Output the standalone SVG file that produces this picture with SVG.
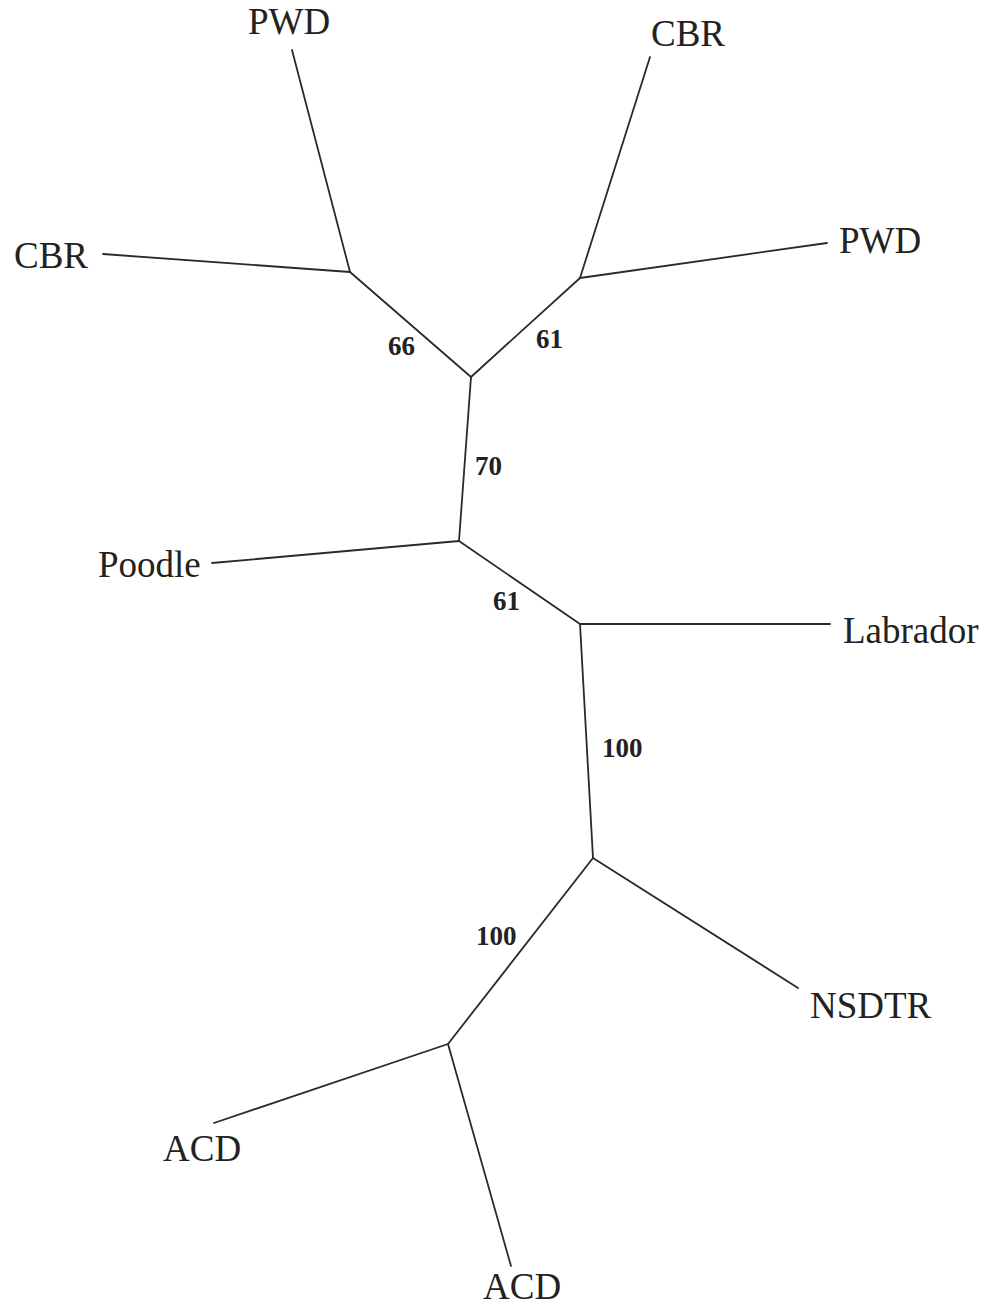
<svg xmlns="http://www.w3.org/2000/svg" width="988" height="1308" viewBox="0 0 988 1308">
<style>
.e{stroke:#2a2a2a;stroke-width:1.8;fill:none;stroke-linecap:round;stroke-linejoin:round}
.t{font-family:"Liberation Serif","Times New Roman",serif;font-size:37px;fill:#222}
.b{font-family:"Liberation Serif","Times New Roman",serif;font-size:27px;font-weight:bold;fill:#222}
</style>
<rect width="988" height="1308" fill="#fff"/>
<g id="connectors">
<line class="e" x1="350" y1="272" x2="292" y2="50"/>
<line class="e" x1="350" y1="272" x2="103" y2="254"/>
<line class="e" x1="350" y1="272" x2="471" y2="377"/>
<line class="e" x1="580" y1="278" x2="650" y2="57"/>
<line class="e" x1="580" y1="278" x2="827" y2="243"/>
<line class="e" x1="580" y1="278" x2="471" y2="377"/>
<line class="e" x1="471" y1="377" x2="459" y2="541"/>
<line class="e" x1="459" y1="541" x2="212" y2="563"/>
<line class="e" x1="459" y1="541" x2="580" y2="624"/>
<line class="e" x1="580" y1="624" x2="830" y2="624"/>
<line class="e" x1="580" y1="624" x2="593" y2="858"/>
<line class="e" x1="593" y1="858" x2="798" y2="988"/>
<line class="e" x1="593" y1="858" x2="448" y2="1044"/>
<line class="e" x1="448" y1="1044" x2="214" y2="1123"/>
<line class="e" x1="448" y1="1044" x2="511" y2="1266"/>
</g>
<g id="support">
<text class="b" x="388" y="355">66</text>
<text class="b" x="536" y="348">61</text>
<text class="b" x="475" y="475">70</text>
<text class="b" x="493" y="610">61</text>
<text class="b" x="602" y="757">100</text>
<text class="b" x="476" y="945">100</text>
</g>
<g id="leaf-pwd-top"><text class="t" x="248" y="34">PWD</text></g>
<g id="leaf-cbr-top"><text class="t" x="651" y="46">CBR</text></g>
<g id="leaf-cbr-left"><text class="t" x="14" y="268">CBR</text></g>
<g id="leaf-pwd-right"><text class="t" x="839" y="253">PWD</text></g>
<g id="leaf-poodle"><text class="t" x="98" y="577">Poodle</text></g>
<g id="leaf-labrador"><text class="t" x="843" y="643">Labrador</text></g>
<g id="leaf-nsdtr"><text class="t" x="810" y="1018">NSDTR</text></g>
<g id="leaf-acd-left"><text class="t" x="163" y="1161">ACD</text></g>
<g id="leaf-acd-bottom"><text class="t" x="483" y="1299">ACD</text></g>
</svg>
